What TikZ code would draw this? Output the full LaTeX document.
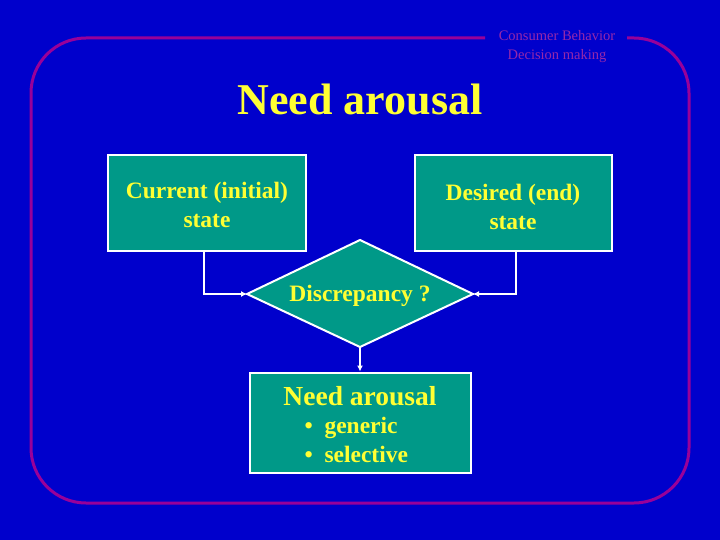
\documentclass[tikz,border=0pt]{standalone}
\usepackage{fontspec}
\setmainfont{Liberation Serif}
\usetikzlibrary{arrows.meta,shapes.geometric}
\definecolor{bgblue}{RGB}{0,0,204}
\definecolor{teal2}{RGB}{0,153,136}
\definecolor{ylw}{RGB}{255,255,51}
\definecolor{frame}{RGB}{153,0,153}
\definecolor{hdr}{RGB}{150,40,170}
\tikzset{
  box/.style={draw=white,line width=2pt,fill=teal2,inner sep=0pt},
  boxtext/.style={text=ylw,font=\bfseries\fontsize{23.5}{29}\selectfont,align=center},
  conn/.style={draw=white,line width=1.8pt,-{Latex[length=6pt,width=6pt]}},
}
\begin{document}
\begin{tikzpicture}[x=1pt,y=-1pt]
\fill[bgblue] (0,0) rectangle (720,540);
\useasboundingbox (0,0) rectangle (720,540);
% frame
\draw[frame,line width=3pt,rounded corners=55pt] (627,38) -- (689,38) -- (689,503) -- (31,503) -- (31,38) -- (485,38);
\node[text=hdr,font=\fontsize{14.5}{19}\selectfont,align=center] (hdr) at (557,47) {Consumer Behavior\\Decision making};
% title
\node[text=ylw,font=\bfseries\fontsize{44}{50}\selectfont] (title) at (360,100) {Need arousal};
% boxes
\node[box,minimum width=198pt,minimum height=95pt] (cur) at (206.5,203) {};
\node[boxtext] at (207,205) {Current (initial)\\state};
\node[box,minimum width=197pt,minimum height=95pt] (des) at (513,203) {};
\node[boxtext] at (513,207) {Desired (end)\\state};
% diamond
\coordinate (dt) at (360,240);
\coordinate (dl) at (247,294);
\coordinate (dr) at (473,294);
\coordinate (db) at (360,347);
\draw[white,line width=2pt,fill=teal2,line join=miter] (dt) -- (dr) -- (db) -- (dl) -- cycle;
\node[boxtext] (disc) at (360,296) {Discrepancy ?};
% bottom box
\node[box,minimum width=221pt,minimum height=100pt] (need) at (360,422.5) {};
\node[text=ylw,font=\bfseries\fontsize{27.5}{30}\selectfont] (nt) at (360,396) {Need arousal};
\node[text=ylw,font=\bfseries\fontsize{23.5}{29}\selectfont,anchor=west,align=left] (bl) at (301,440) {\textbullet\ \ generic\\\textbullet\ \ selective};
% connectors
\draw[conn] (cur.south -| 204,0) |- (dl);
\draw[conn] (des.south -| 516,0) |- (dr);
\draw[conn] (db) -- (need.north);
\end{tikzpicture}
\end{document}
